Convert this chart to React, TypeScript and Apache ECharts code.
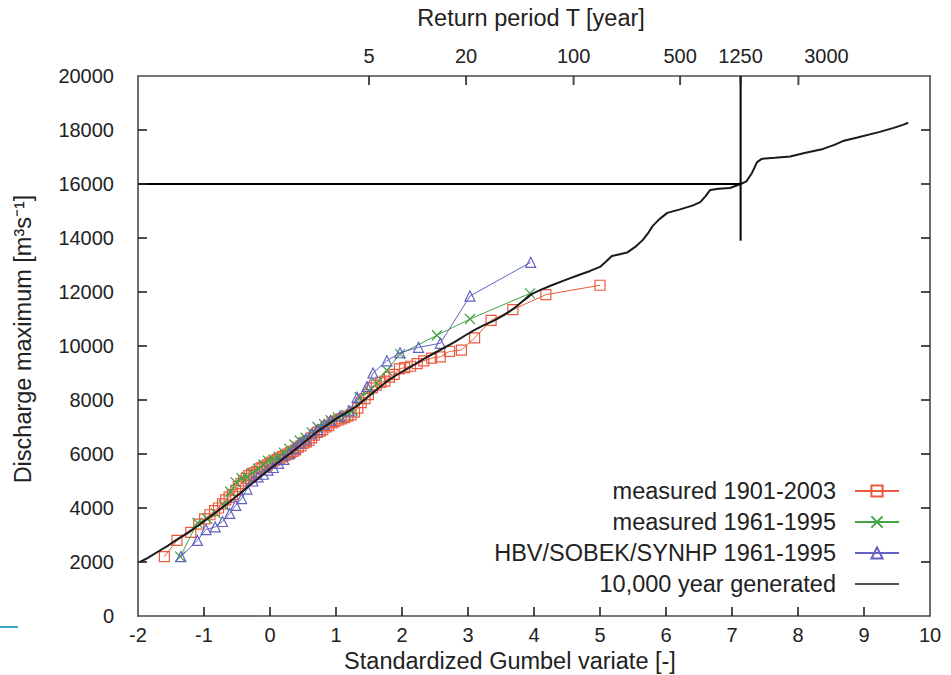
import React, { useEffect, useRef } from "react";
import * as echarts from "echarts";

const FONT = "'Liberation Sans', Arial, Helvetica, sans-serif";

// Return periods shown on the top axis
const returnPeriods = [5, 20, 100, 500, 1250, 3000];
const designPeriod = 1250;
const designFlow = 16000;
const verticalLineBottom = 13900;

// Tick values of the frame
const xTickValues = [-1, 0, 1, 2, 3, 4, 5, 6, 7, 8, 9];
const yTickValues = [2000, 4000, 6000, 8000, 10000, 12000, 14000, 16000, 18000];

// 10,000 year generated series [Gumbel variate, discharge]
const generated10000: [number, number][] = [
  [-1.97, 2000], [-1.85, 2150], [-1.7, 2380], [-1.55, 2600], [-1.4, 2850], [-1.25, 3080],
  [-1.1, 3330], [-0.95, 3600], [-0.8, 3880], [-0.65, 4150], [-0.5, 4450], [-0.35, 4750],
  [-0.2, 5050], [-0.05, 5350], [0.1, 5650], [0.25, 5920], [0.4, 6200], [0.55, 6500],
  [0.7, 6800], [0.85, 7050], [1.0, 7300], [1.15, 7520], [1.3, 7750], [1.45, 8050],
  [1.6, 8350], [1.75, 8650], [1.9, 8900], [2.05, 9120], [2.2, 9330], [2.35, 9550],
  [2.5, 9750], [2.65, 9950], [2.8, 10150], [2.95, 10380], [3.1, 10600], [3.25, 10780],
  [3.4, 10950], [3.55, 11150], [3.7, 11400], [3.85, 11700], [3.97, 11930], [4.1, 12080],
  [4.25, 12230], [4.47, 12440], [4.7, 12650], [4.85, 12780], [5.0, 12930], [5.1, 13150],
  [5.18, 13330], [5.3, 13400], [5.41, 13460], [5.55, 13700], [5.65, 13930], [5.72, 14150],
  [5.8, 14450], [5.9, 14700], [6.02, 14930], [6.2, 15050], [6.4, 15200], [6.52, 15330],
  [6.6, 15550], [6.67, 15780], [6.8, 15820], [6.97, 15850], [7.13, 16000], [7.22, 16100],
  [7.3, 16400], [7.38, 16810], [7.45, 16930], [7.65, 16970], [7.88, 17020], [8.1, 17150],
  [8.38, 17300], [8.55, 17450], [8.68, 17590], [8.9, 17720], [9.24, 17930], [9.45, 18080],
  [9.6, 18200], [9.67, 18270],
];

// measured 1901-2003
const measured1901: [number, number][] = [
  [-1.6, 2200], [-1.41, 2800], [-1.2, 3100], [-1.08, 3400], [-0.99, 3600], [-0.91, 3750],
  [-0.84, 3900], [-0.78, 4000], [-0.72, 4150], [-0.67, 4300], [-0.62, 4400], [-0.57, 4500],
  [-0.52, 4650], [-0.48, 4800], [-0.44, 4900], [-0.4, 5000], [-0.36, 5100], [-0.32, 5200],
  [-0.28, 5250], [-0.24, 5300], [-0.2, 5350], [-0.16, 5450], [-0.12, 5500], [-0.08, 5550],
  [-0.04, 5600], [0.0, 5650], [0.03, 5700], [0.07, 5750], [0.11, 5800], [0.15, 5850],
  [0.19, 5900], [0.23, 5950], [0.27, 6000], [0.31, 6050], [0.35, 6100], [0.39, 6150],
  [0.43, 6250], [0.47, 6300], [0.51, 6400], [0.55, 6450], [0.59, 6500], [0.63, 6600],
  [0.67, 6700], [0.72, 6800], [0.76, 6850], [0.8, 6900], [0.85, 7000], [0.89, 7050],
  [0.94, 7150], [0.98, 7200], [1.03, 7250], [1.08, 7300], [1.13, 7350], [1.18, 7400],
  [1.23, 7450], [1.28, 7550], [1.33, 7700], [1.38, 7900], [1.44, 8050], [1.49, 8200],
  [1.55, 8450], [1.61, 8550], [1.68, 8650], [1.74, 8700], [1.81, 8850], [1.88, 8950],
  [1.96, 9150], [2.04, 9200], [2.13, 9250], [2.23, 9350], [2.33, 9450], [2.45, 9550],
  [2.58, 9600], [2.72, 9800], [2.9, 9850], [3.1, 10300], [3.35, 10950], [3.68, 11350],
  [4.18, 11900], [5.0, 12250],
];

// measured 1961-1995
const measured1961: [number, number][] = [
  [-1.36, 2200], [-1.1, 3450], [-0.95, 3600], [-0.82, 3800], [-0.7, 4100], [-0.6, 4600],
  [-0.52, 4950], [-0.43, 5100], [-0.35, 5150], [-0.27, 5300], [-0.18, 5450], [-0.1, 5600],
  [-0.03, 5750], [0.05, 5800], [0.13, 5900], [0.21, 6050], [0.29, 6200], [0.37, 6350],
  [0.45, 6500], [0.54, 6600], [0.63, 6800], [0.72, 7000], [0.82, 7100], [0.92, 7250],
  [1.03, 7350], [1.15, 7450], [1.25, 7600], [1.36, 8100], [1.5, 8350], [1.62, 8630],
  [1.77, 9100], [1.97, 9700], [2.53, 10400], [3.03, 11000], [3.94, 11950],
];

// HBV/SOBEK/SYNHP 1961-1995
const hbv1961: [number, number][] = [
  [-1.35, 2200], [-1.1, 2800], [-0.97, 3200], [-0.83, 3300], [-0.72, 3500], [-0.61, 3800],
  [-0.52, 4100], [-0.43, 4350], [-0.35, 4700], [-0.26, 5000], [-0.18, 5150], [-0.1, 5250],
  [-0.03, 5400], [0.05, 5500], [0.13, 5650], [0.21, 5800], [0.29, 6000], [0.37, 6200],
  [0.45, 6400], [0.54, 6550], [0.63, 6750], [0.72, 6900], [0.82, 7100], [0.92, 7250],
  [1.06, 7400], [1.2, 7600], [1.32, 8100], [1.47, 8500], [1.56, 9000], [1.77, 9450],
  [1.97, 9750], [2.25, 9950], [2.58, 10100], [3.03, 11850], [3.95, 13100],
];

const seriesNames = [
  "measured 1901-2003",
  "measured 1961-1995",
  "HBV/SOBEK/SYNHP 1961-1995",
  "10,000 year generated",
];

const RED = "#ec5a3e";
const GREEN = "#45a347";
const BLUE = "#6262c2";
const BLACK = "#1a1a1a";
const AXIS = "#4a4a4a";
const TICK_COLOR = "#222";
const TICK_LEN = 9;

const W = 951;
const H = 675;

const gumbel = (T: number) => -Math.log(-Math.log(1 - 1 / T));

export default function App() {
  const ref = useRef<HTMLDivElement>(null);
  useEffect(() => {
    if (!ref.current) return;
    const chart = echarts.init(ref.current, undefined, { renderer: "svg" });
    const topPositions = returnPeriods.map(gumbel);
    const xDesign = gumbel(designPeriod);

    const axisLine = { show: true, onZero: false, lineStyle: { color: AXIS, width: 1.6 } };
    const noTick = { show: false };
    const hidden = { show: false };
    const plain = (v: number) => String(v);

    // inward tick marks as small bars placed through the axes' scales
    const tickSeries = (
      data: number[][],
      size: number[],
      offset: number[],
    ) => ({
      type: "scatter",
      data,
      symbol: "rect",
      symbolSize: size,
      symbolOffset: offset,
      itemStyle: { color: TICK_COLOR },
      silent: true,
      clip: false,
      z: 7,
      emphasis: { disabled: true },
    });

    chart.setOption({
      animation: false,
      backgroundColor: "#ffffff",
      textStyle: { fontFamily: FONT },
      tooltip: { show: false },
      grid: { left: 138, right: 21, top: 76, bottom: 59, containLabel: false },
      xAxis: [
        {
          type: "value",
          position: "bottom",
          min: -2,
          max: 10,
          interval: 1,
          axisLine,
          axisTick: noTick,
          splitLine: hidden,
          axisLabel: { fontSize: 20, color: "#222", margin: 9, fontFamily: FONT, formatter: plain },
        },
        {
          type: "value",
          position: "top",
          min: -2,
          max: 10,
          axisLine,
          axisTick: noTick,
          splitLine: hidden,
          axisLabel: {
            fontSize: 20,
            color: "#222",
            margin: 10,
            fontFamily: FONT,
            customValues: topPositions,
            formatter: (v: number) => {
              const i = topPositions.findIndex((p) => Math.abs(p - v) < 1e-6);
              const T = i >= 0 ? returnPeriods[i] : "";
              return T === 3000 ? "{s|3000}" : String(T);
            },
            rich: { s: { fontSize: 20, color: "#222", fontFamily: FONT, padding: [0, 0, 0, 56] } },
          },
        },
      ],
      yAxis: [
        {
          type: "value",
          position: "left",
          min: 0,
          max: 20000,
          interval: 2000,
          axisLine,
          axisTick: noTick,
          splitLine: hidden,
          axisLabel: { fontSize: 20, color: "#222", margin: 24, fontFamily: FONT, formatter: plain },
        },
        {
          type: "value",
          position: "right",
          min: 0,
          max: 20000,
          interval: 2000,
          axisLine,
          axisTick: noTick,
          splitLine: hidden,
          axisLabel: hidden,
        },
      ],
      legend: {
        orient: "vertical",
        right: 46,
        top: 474,
        align: "right",
        itemWidth: 44,
        itemHeight: 14,
        itemGap: 7,
        data: [
          seriesNames[0],
          seriesNames[1],
          seriesNames[2],
          {
            name: seriesNames[3],
            icon: "path://M0,0L0.01,0L0.01,0.01L0,0.01Z M0,6.2L44,6.2L44,7.8L0,7.8Z M43.99,13.99L44,13.99L44,14L43.99,14Z",
          },
        ],
        textStyle: {
          fontSize: 23.5,
          color: "#222",
          fontFamily: FONT,
          lineHeight: 24,
          padding: [0, 14, 0, 0],
        },
      },
      series: [
        {
          name: seriesNames[0],
          type: "line",
          data: measured1901,
          symbol: "rect",
          symbolSize: 10,
          lineStyle: { color: RED, width: 1 },
          itemStyle: { color: "rgba(255,255,255,0)", borderColor: RED, borderWidth: 1.2 },
          z: 2,
        },
        {
          name: seriesNames[1],
          type: "line",
          data: measured1961,
          symbol: "path://M0,0L10,10M0,10L10,0",
          symbolSize: 10,
          lineStyle: { color: GREEN, width: 1 },
          itemStyle: { color: GREEN, borderColor: GREEN, borderWidth: 1.3 },
          z: 3,
        },
        {
          name: seriesNames[2],
          type: "line",
          data: hbv1961,
          symbol: "triangle",
          symbolSize: 10,
          lineStyle: { color: BLUE, width: 1 },
          itemStyle: { color: "rgba(255,255,255,0)", borderColor: BLUE, borderWidth: 1.2 },
          z: 4,
        },
        {
          name: seriesNames[3],
          type: "line",
          data: generated10000,
          symbol: "none",
          lineStyle: { color: BLACK, width: 2 },
          itemStyle: { color: BLACK },
          z: 5,
        },
        {
          name: "design-h",
          type: "line",
          data: [[-2, designFlow], [xDesign, designFlow]],
          symbol: "none",
          lineStyle: { color: "#000", width: 2 },
          z: 6,
        },
        {
          name: "design-v",
          type: "line",
          data: [[xDesign, 20000], [xDesign, verticalLineBottom]],
          symbol: "none",
          lineStyle: { color: "#000", width: 2 },
          z: 6,
        },
        tickSeries(xTickValues.map((v) => [v, 0]), [2, TICK_LEN], [0, -TICK_LEN / 2]),
        tickSeries(topPositions.map((v) => [v, 20000]), [2, TICK_LEN], [0, TICK_LEN / 2]),
        tickSeries(yTickValues.map((v) => [-2, v]), [TICK_LEN, 2], [TICK_LEN / 2, 0]),
        tickSeries(yTickValues.map((v) => [10, v]), [TICK_LEN, 2], [-TICK_LEN / 2, 0]),
      ],
      graphic: [
        {
          type: "text",
          x: 531,
          y: 18,
          style: {
            text: "Return period T [year]",
            font: `23.5px ${FONT}`,
            fill: "#222",
            align: "center",
            verticalAlign: "middle",
          },
        },
        {
          type: "text",
          x: 510,
          y: 661,
          style: {
            text: "Standardized Gumbel variate [-]",
            font: `23.5px ${FONT}`,
            fill: "#222",
            align: "center",
            verticalAlign: "middle",
          },
        },
        {
          type: "text",
          x: 23,
          y: 339,
          rotation: Math.PI / 2,
          style: {
            text: "Discharge maximum [m³s⁻¹]",
            font: `23.5px ${FONT}`,
            fill: "#222",
            align: "center",
            verticalAlign: "middle",
          },
        },
        {
          type: "line",
          shape: { x1: 0, y1: 627, x2: 18, y2: 627 },
          style: { stroke: "#3aa9cf", lineWidth: 2 },
        },
      ],
    });

    return () => chart.dispose();
  }, []);

  return (
    <div
      ref={ref}
      style={{ position: "absolute", left: 0, top: 0, width: W, height: H, background: "#fff" }}
    />
  );
}
